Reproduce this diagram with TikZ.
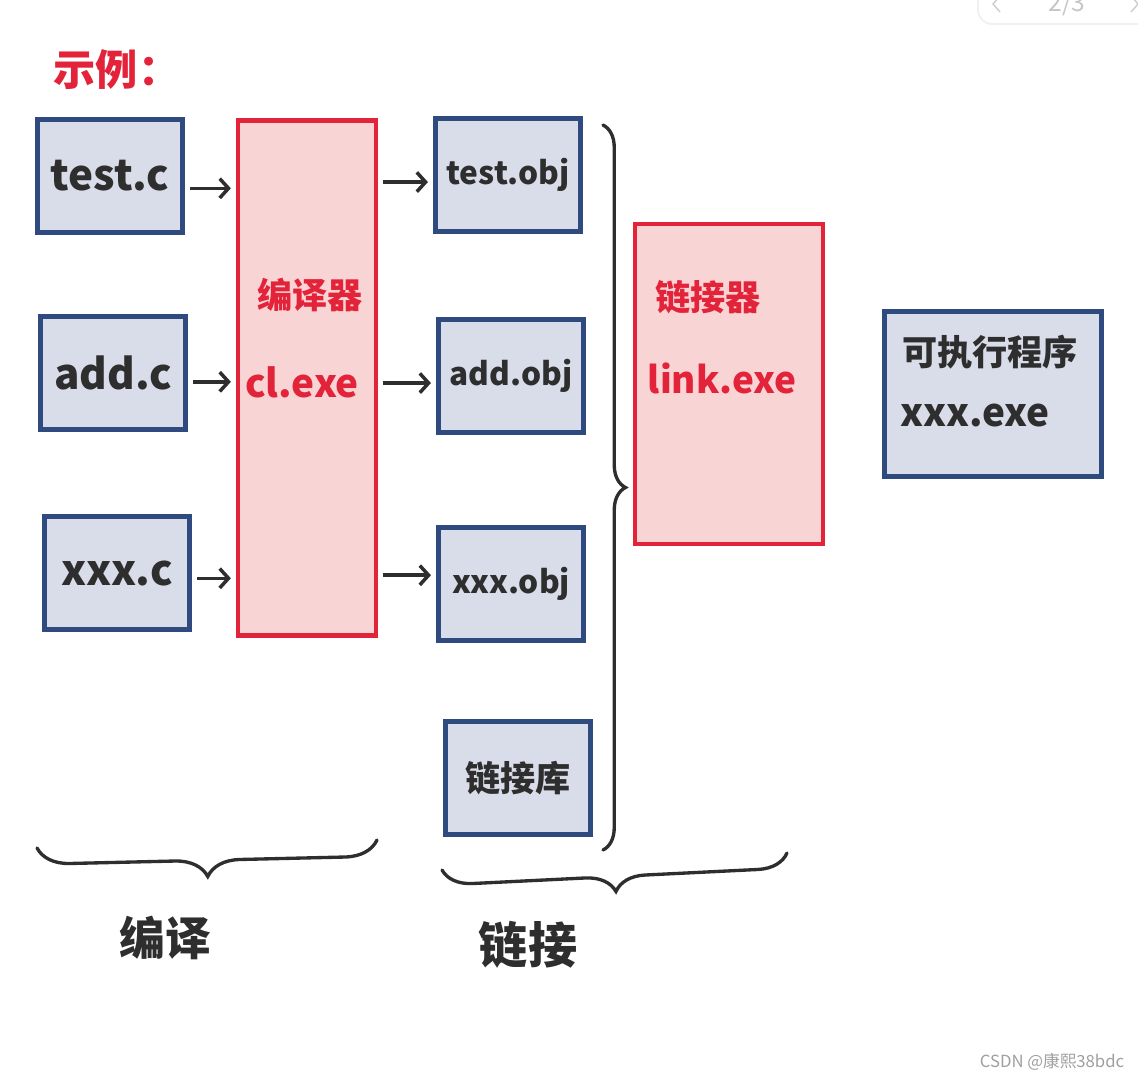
\documentclass[tikz,border=0pt]{standalone}
\usepackage{fontspec}
\newfontfamily\cjk{Noto Sans CJK SC}
\usetikzlibrary{arrows.meta,decorations.pathreplacing}

\definecolor{boxblue}{HTML}{2E4A7F}
\definecolor{boxfill}{HTML}{D9DDE9}
\definecolor{toolred}{HTML}{E3233A}
\definecolor{toolfill}{HTML}{F9D4D4}
\definecolor{ink}{HTML}{2E2E2E}

\begin{document}
\begin{tikzpicture}[
    x=0.02cm, y=-0.02cm,
    sz/.style={font=\cjk\bfseries\fontsize{#1}{#1}\selectfont},
    file/.style={draw=boxblue, fill=boxfill, line width=2.6pt,
                 minimum width=2.9cm, minimum height=2.25cm, text=ink},
    tool/.style={draw=toolred, fill=toolfill, line width=2.4pt},
    redtext/.style={text=toolred, sz=#1},
    arr/.style={-{Straight Barb[length=5pt,width=11pt,line width=2pt]}, ink,
                line width=2pt, shorten <=3pt, shorten >=3pt},
    brc/.style={decorate, decoration={brace, amplitude=#1}, ink,
                line width=1.9pt, line cap=round}
  ]
    \useasboundingbox (0,0) rectangle (1138,1080);

    % page indicator of the viewer
    \draw[gray!12, line width=1pt, rounded corners=8pt] (978,-40) rectangle (1170,24);
    \draw[gray!40, line width=0.8pt] (1000,-4) -- (993,4) -- (1000,12);
    \draw[gray!40, line width=0.8pt] (1131,-4) -- (1138,4) -- (1131,12);
    \node[text=gray!45, font=\cjk\fontsize{14}{14}\selectfont] (page) at (1067,4) {2/3};

    \node[redtext=24] (title) at (117,70) {示例：};

    % source files
    \node[file, sz=24] (testc) at (110,176) {test.c};
    \node[file, sz=24] (addc) at (113,373) {add.c};
    \node[file, sz=24] (xxxc) at (117,573) {xxx.c};

    % compiler
    \node[tool, minimum width=2.75cm, minimum height=10.3cm] (comp) at (307,378) {};
    \node[redtext=20] (compname) at (310,295) {编译器};
    \node[redtext=22] (compexe) at (302,382) {cl.exe};

    % object files
    \node[file, sz=18] (testobj) at (508,175) {test.obj};
    \node[file, sz=18] (addobj) at (511,376) {add.obj};
    \node[file, sz=18] (xxxobj) at (511,584) {xxx.obj};
    \node[file, sz=20] (lib) at (518,778) {链接库};

    % linker
    \node[tool, minimum width=3.75cm, minimum height=6.4cm] (link) at (729,384) {};
    \node[redtext=20] (linkname) at (708,297) {链接器};
    \node[redtext=21] (linkexe) at (722,378) {link.exe};

    % executable
    \node[file, minimum width=4.35cm, minimum height=3.3cm] (exe) at (993,394) {};
    \node[text=ink, sz=20] (exename) at (990,352) {可执行程序};
    \node[text=ink, sz=22] (exefile) at (975,415) {xxx.exe};

    \draw[arr] ([yshift=-7pt]testc.east) -- ([yshift=-7pt]testc.east -| comp.west);
    \draw[arr] ([yshift=-5pt]addc.east) -- ([yshift=-5pt]addc.east -| comp.west);
    \draw[arr] ([yshift=-3pt]xxxc.east) -- ([yshift=-3pt]xxxc.east -| comp.west);
    \draw[arr] ([yshift=-4pt]comp.east |- testobj.west) -- ([yshift=-4pt]testobj.west);
    \draw[arr] ([yshift=-4pt]comp.east |- addobj.west) -- ([yshift=-4pt]addobj.west);
    \draw[arr] ([yshift=5pt]comp.east |- xxxobj.west) -- ([yshift=5pt]xxxobj.west);

    % braces
    \coordinate (objtop) at (603,125);
    \coordinate (objbot) at (603,850);
    \draw[brc=0.45cm] (objtop) -- (objbot);
    \coordinate (compright) at (377,840);
    \coordinate (compleft) at (37,848);
    \draw[brc=0.65cm] (compright) -- (compleft);
    \coordinate (linkright) at (787,853);
    \coordinate (linkleft) at (442,870);
    \draw[brc=0.6cm] (linkright) -- (linkleft);

    \node[text=ink, sz=26] (compstep) at (165,938) {编译};
    \node[text=ink, sz=28] (linkstep) at (528,945) {链接};

    \node[text=gray!75, font=\cjk\fontsize{9.5}{10}\selectfont] (mark) at (1052,1062) {CSDN @康熙38bdc};
\end{tikzpicture}
\end{document}
